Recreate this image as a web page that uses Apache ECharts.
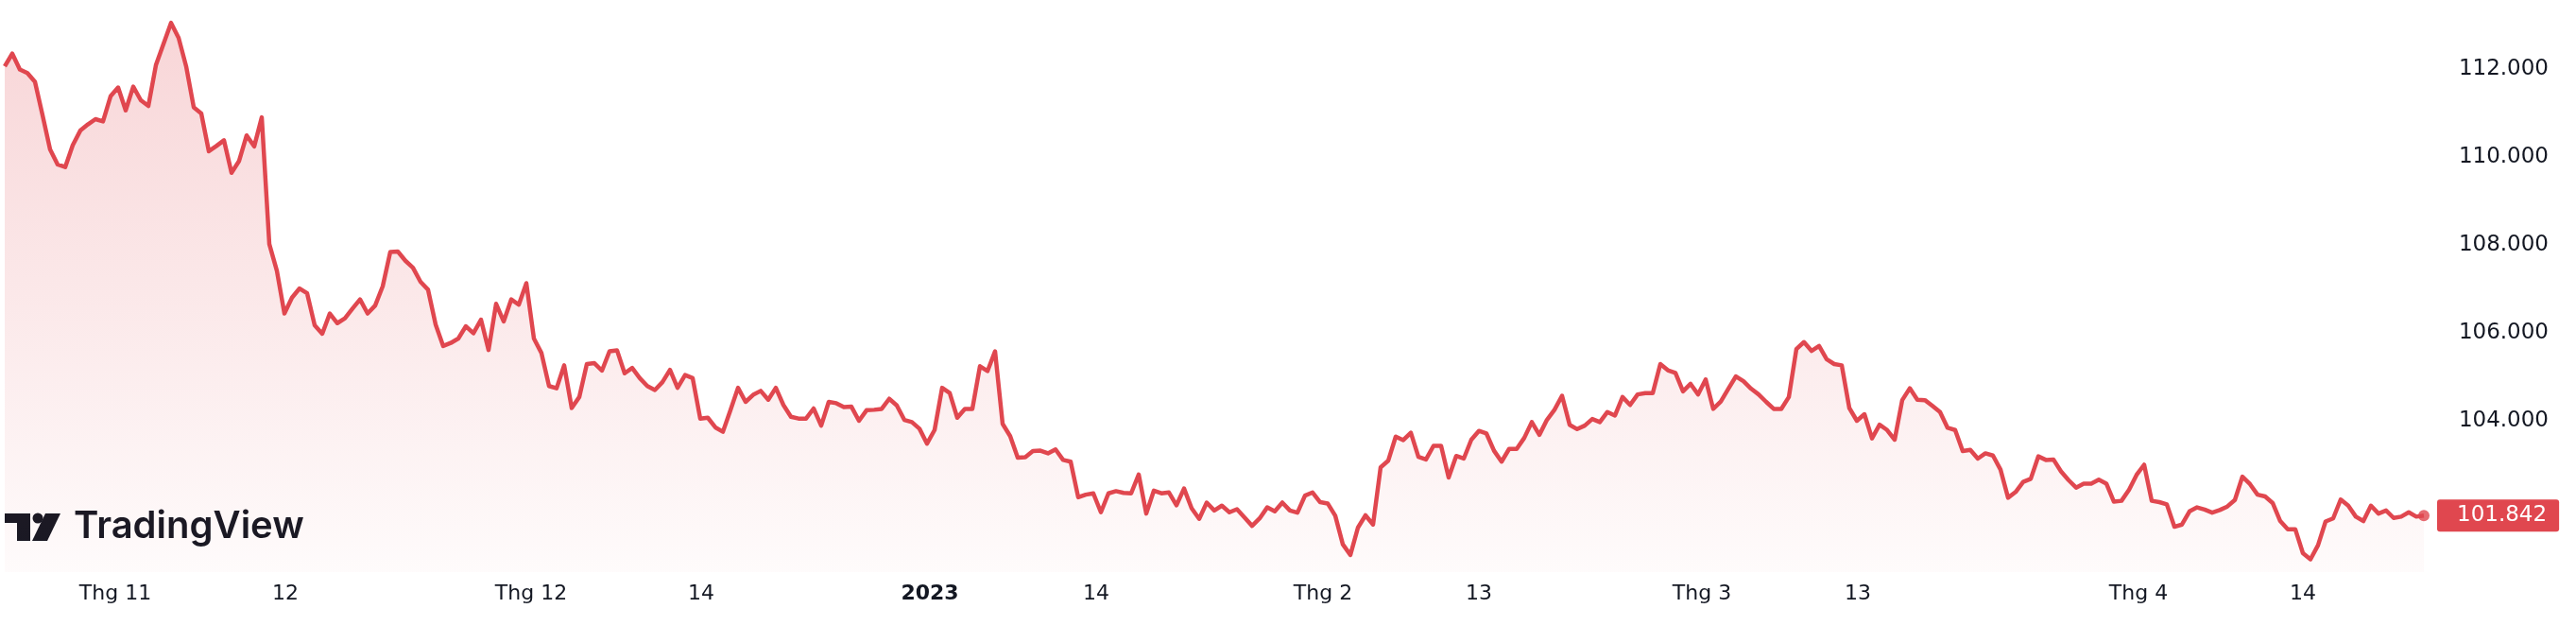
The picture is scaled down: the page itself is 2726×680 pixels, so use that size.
<!DOCTYPE html>
<html><head><meta charset="utf-8">
<script src="https://cdn.jsdelivr.net/npm/echarts@6/dist/echarts.min.js"></script>
<style>html,body{margin:0;padding:0;background:#fff}#c{width:2726px;height:680px}</style>
</head><body><div id="c"></div>
<script>
// hourly closes, one value per sample, oldest first
const prices = [
112.06,112.35,111.99,111.91,111.71,110.95,110.17,109.83,109.77,110.27,
110.60,110.74,110.86,110.81,111.38,111.58,111.06,111.60,111.29,111.16,
112.09,112.57,113.05,112.71,112.06,111.13,110.99,110.13,110.25,110.38,
109.64,109.91,110.49,110.24,110.90,108.02,107.41,106.44,106.80,107.01,
106.90,106.17,105.98,106.44,106.22,106.33,106.55,106.76,106.44,106.62,
107.06,107.84,107.85,107.64,107.48,
107.16,106.98,106.19,105.70,105.77,105.87,106.15,105.99,106.30,105.61,
106.66,106.26,106.76,106.64,107.13,105.87,105.54,104.79,104.74,105.26,
104.29,104.54,105.29,105.31,105.14,105.58,105.60,105.08,105.20,104.97,
104.79,104.70,104.88,105.16,104.75,105.04,104.97,104.05,104.07,103.85,
103.75,104.24,104.75,104.43,104.59,104.68,104.48,104.75,104.36,104.09,
104.05,104.05,104.28,103.89,
104.43,104.40,104.31,104.32,104.00,104.24,104.25,104.27,104.50,104.35,
104.02,103.97,103.82,103.48,103.79,104.75,104.63,104.07,104.27,104.27,
105.24,105.13,105.58,103.93,103.65,103.16,103.17,103.31,103.32,103.26,
103.35,103.11,103.07,102.26,102.32,102.35,101.92,102.35,102.40,102.36,
102.35,102.78,101.89,102.41,102.35,102.37,102.08,102.46,102.01,101.77,
102.14,101.96,102.07,
101.92,101.99,101.80,101.61,101.78,102.03,101.94,102.14,101.96,101.91,
102.30,102.37,102.15,102.12,101.84,101.19,100.95,101.57,101.85,101.64,
102.94,103.09,103.64,103.56,103.73,103.18,103.12,103.43,103.43,102.71,
103.20,103.14,103.57,103.77,103.71,103.32,103.07,103.36,103.36,103.61,
103.97,103.68,104.02,104.25,104.57,103.91,103.81,103.89,104.04,103.97,
104.20,104.12,104.54,104.36,
104.60,104.63,104.63,105.29,105.15,105.09,104.67,104.84,104.60,104.94,
104.27,104.44,104.73,105.01,104.90,104.73,104.60,104.43,104.27,104.27,
104.54,105.63,105.79,105.59,105.70,105.40,105.29,105.26,104.29,104.00,
104.15,103.60,103.91,103.79,103.57,104.47,104.74,104.48,104.47,104.34,
104.20,103.84,103.79,103.31,103.34,103.14,103.26,103.21,102.89,102.25,
102.38,102.61,102.68,103.19,
103.11,103.12,102.85,102.65,102.48,102.57,102.57,102.66,102.57,102.16,
102.18,102.43,102.77,103.00,102.18,102.15,102.10,101.59,101.64,101.94,
102.03,101.98,101.91,101.97,102.05,102.20,102.73,102.56,102.32,102.28,
102.13,101.72,101.53,101.53,100.99,100.85,101.17,101.71,101.78,102.21,
102.07,101.82,101.72,102.07,101.89,101.96,101.79,101.82,101.92,101.82,
101.842
];
// sample index where each date label sits, and its text
const tickIndex  = [14.625, 37.125, 69.625, 92.125, 122.375, 144.375, 174.375, 195, 224.5, 245.125, 282.25, 304];
const tickLabels = ['Thg 11','12','Thg 12','14','2023','14','Thg 2','13','Thg 3','13','Thg 4','14'];
const boldLabels = ['2023'];
const yTicks = [104, 106, 108, 110, 112];

const RED = '#e0474f';
const INK = '#131722';
const FONT = 'DejaVu Sans';
const lastIdx = prices.length - 1;
const lastValue = prices[lastIdx];

const chart = echarts.init(document.getElementById('c'), null, {renderer: 'canvas'});

function labelFor(v) {
  let best = 0, bd = Infinity;
  tickIndex.forEach((t, i) => { const d = Math.abs(t - v); if (d < bd) { bd = d; best = i; } });
  const s = tickLabels[best];
  return boldLabels.includes(s) ? '{b|' + s + '}' : s;
}

chart.setOption({
  animation: false,
  backgroundColor: '#ffffff',
  grid: {left: 5, right: 148, top: 0, bottom: 75},
  xAxis: {
    type: 'value', min: 0, max: 321.625,
    axisLine: {show: false}, axisTick: {show: false}, splitLine: {show: false},
    axisLabel: {
      customValues: tickIndex, formatter: labelFor, margin: 12,
      fontFamily: FONT, fontSize: 22, color: INK,
      rich: {b: {fontFamily: FONT, fontSize: 22, fontWeight: 'bold', color: INK}}
    }
  },
  yAxis: {
    type: 'value', position: 'right', min: 100.559, max: 113.57, scale: true,
    axisLine: {show: false}, axisTick: {show: false}, splitLine: {show: false},
    axisLabel: {
      customValues: yTicks, formatter: v => v.toFixed(3), align: 'right', margin: 119,
      fontFamily: FONT, fontSize: 23, color: INK, padding: [7, 0, 0, 0]
    }
  },
  series: [{
    type: 'line',
    data: prices.map((v, i) => [i, v]),
    showSymbol: false,
    lineStyle: {color: RED, width: 4.5, join: 'round'},
    areaStyle: {
      origin: 'start',
      color: new echarts.graphic.LinearGradient(0, 0, 0, 1, [
        {offset: 0, color: 'rgba(224,71,79,0.32)'},
        {offset: 1, color: 'rgba(224,71,79,0.03)'}
      ])
    },
    endLabel: {
      show: true, formatter: () => lastValue.toFixed(3), distance: 14,
      backgroundColor: RED, color: '#fff', fontFamily: FONT, fontSize: 23,
      padding: [6, 13, 5, 21], borderRadius: 3
    },
    z: 2
  }, {
    type: 'scatter',
    data: [[lastIdx, lastValue]],
    symbolSize: 12,
    itemStyle: {color: RED},
    z: 3
  }],
  graphic: [
    {type: 'rect', shape: {x: 5, y: 543, width: 27, height: 10}, style: {fill: INK}},
    {type: 'rect', shape: {x: 18, y: 543, width: 14, height: 29}, style: {fill: INK}},
    {type: 'circle', shape: {cx: 40, cy: 548, r: 5.5}, style: {fill: INK}},
    {type: 'polygon', shape: {points: [[48, 543], [64, 543], [50, 572], [34, 572]]}, style: {fill: INK}},
    {type: 'text', x: 78, y: 557, style: {text: 'TradingView', font: '600 40px Inter', fill: INK, textVerticalAlign: 'middle'}}
  ]
});
</script></body></html>
